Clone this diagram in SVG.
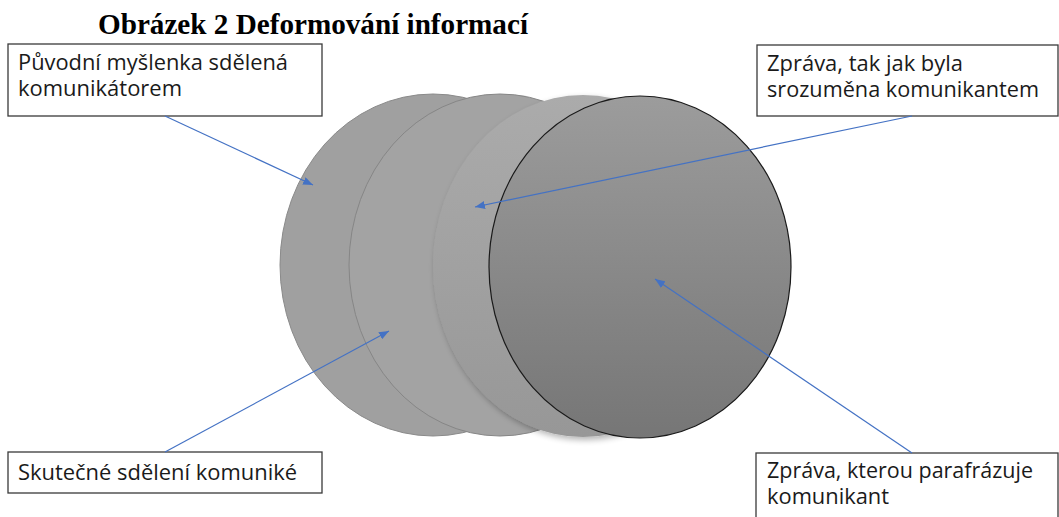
<svg xmlns="http://www.w3.org/2000/svg" width="1059" height="517" viewBox="0 0 1059 517">
<style>
.box{fill:#fff;stroke:#3a3a3a;stroke-width:1.3}
.lbl{font-family:"Open Sans","Liberation Sans",Arial,sans-serif;font-size:21px;fill:#1a1a1a}
.title{font-family:"Liberation Serif","Times New Roman",serif;font-size:29px;font-weight:bold;fill:#000}
.conn{stroke:#4472C4;stroke-width:1.2;fill:none;marker-end:url(#arr)}
</style>
<defs>
<marker id="arr" viewBox="0 0 10 8" refX="10" refY="4" markerWidth="10" markerHeight="8" markerUnits="userSpaceOnUse" orient="auto">
<path d="M0,0 L10,4 L0,8 Z" fill="#4472C4"/>
</marker>
<linearGradient id="g3" x1="0" y1="0" x2="0" y2="1">
<stop offset="0" stop-color="#ababab"/>
<stop offset="1" stop-color="#979797"/>
</linearGradient>
<linearGradient id="g4" x1="0" y1="0" x2="0" y2="1">
<stop offset="0" stop-color="#9c9c9c"/>
<stop offset="1" stop-color="#767676"/>
</linearGradient>
<filter id="sh" x="-10%" y="-10%" width="125%" height="125%">
<feGaussianBlur in="SourceAlpha" stdDeviation="3"/>
<feOffset dx="2" dy="3" result="b"/>
<feComponentTransfer><feFuncA type="linear" slope="0.3"/></feComponentTransfer>
<feMerge><feMergeNode/><feMergeNode in="SourceGraphic"/></feMerge>
</filter>
</defs>
<text class="title" x="98" y="34" textLength="430" lengthAdjust="spacingAndGlyphs">Obrázek 2 Deformování informací</text>
<g id="circle1"><ellipse cx="433" cy="265" rx="153" ry="171" fill="#a0a0a0" stroke="#8a8a8a" stroke-width="1"/></g>
<g id="circle2"><ellipse cx="500" cy="265" rx="151" ry="171" fill="#a3a3a3" stroke="#868686" stroke-width="1"/></g>
<g id="circle3"><ellipse cx="583" cy="266" rx="150" ry="171" fill="url(#g3)" filter="url(#sh)"/></g>
<g id="circle4"><ellipse cx="640" cy="267" rx="151" ry="171" fill="url(#g4)" stroke="#1a1a1a" stroke-width="1.2"/></g>
<g id="box1"><rect class="box" x="8" y="44" width="314" height="72"/>
<text class="lbl" x="18" y="70" textLength="270" lengthAdjust="spacingAndGlyphs">Původní myšlenka sdělená</text>
<text class="lbl" x="18" y="96" textLength="164" lengthAdjust="spacingAndGlyphs">komunikátorem</text></g>
<g id="box2"><rect class="box" x="757" y="45" width="301" height="71"/>
<text class="lbl" x="767" y="71" textLength="196" lengthAdjust="spacingAndGlyphs">Zpráva, tak jak byla</text>
<text class="lbl" x="767" y="97" textLength="272" lengthAdjust="spacingAndGlyphs">srozuměna komunikantem</text></g>
<g id="box3"><rect class="box" x="8" y="452" width="314" height="41"/>
<text class="lbl" x="18" y="480" textLength="279" lengthAdjust="spacingAndGlyphs">Skutečné sdělení komuniké</text></g>
<g id="box4"><rect class="box" x="756" y="453" width="302" height="80"/>
<text class="lbl" x="767" y="478" textLength="266" lengthAdjust="spacingAndGlyphs">Zpráva, kterou parafrázuje</text>
<text class="lbl" x="767" y="504" textLength="122" lengthAdjust="spacingAndGlyphs">komunikant</text></g>
<g id="connectors">
<line class="conn" x1="165" y1="116" x2="313" y2="185"/>
<line class="conn" x1="912" y1="116" x2="475" y2="207"/>
<line class="conn" x1="165" y1="452" x2="389" y2="331"/>
<line class="conn" x1="912" y1="453" x2="655" y2="279"/>
</g>
</svg>
